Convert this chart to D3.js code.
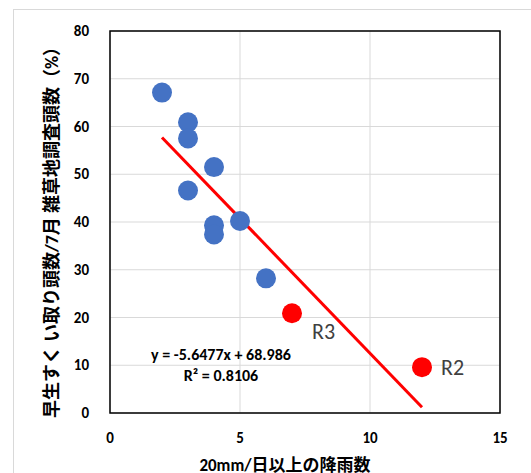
<!DOCTYPE html>
<html>
<head>
<meta charset="utf-8">
<script src="https://d3js.org/d3.v7.min.js"></script>
<style>
  body { margin: 0; background: #fff; }
  text { font-family: Calibri, "Noto Sans CJK JP", "Noto Sans", sans-serif; }
</style>
</head>
<body>
<script>
// 20mm/day rain counts vs. ratio (%)
var rainDays = [2, 3, 3, 4, 3, 4, 4, 5, 6];
var ratios   = [67.1, 60.9, 57.5, 51.5, 46.6, 39.3, 37.4, 40.2, 28.2];
var redNames = ["R3", "R2"];
var redDays  = [7, 12];
var redRatio = [20.9, 9.6];
var slope = -5.6477, intercept = 68.986;
var trendX = [2, 12];
var xTicks = [0, 5, 10, 15];
var yTicks = [0, 10, 20, 30, 40, 50, 60, 70, 80];

var svg = d3.select("body").append("svg")
    .attr("width", 531).attr("height", 473);

// outer chart frame
svg.append("rect").attr("x", 13.5).attr("y", 9.5)
    .attr("width", 540).attr("height", 480)
    .attr("fill", "#fff").attr("stroke", "#d9d9d9");

var x = d3.scaleLinear().domain([0, 15]).range([110, 500]);
var y = d3.scaleLinear().domain([0, 80]).range([413, 31]);

// grid
svg.selectAll(".gx").data(xTicks).enter().append("line")
    .attr("x1", d => x(d)).attr("x2", d => x(d))
    .attr("y1", y(0)).attr("y2", y(80))
    .attr("stroke", "#d9d9d9").attr("stroke-width", 1);
svg.selectAll(".gy").data(yTicks).enter().append("line")
    .attr("x1", x(0)).attr("x2", x(15))
    .attr("y1", d => y(d)).attr("y2", d => y(d))
    .attr("stroke", "#d9d9d9").attr("stroke-width", 1);

// plot border
svg.append("rect").attr("x", x(0)).attr("y", y(80))
    .attr("width", x(15) - x(0)).attr("height", y(0) - y(80))
    .attr("fill", "none").attr("stroke", "#000").attr("stroke-width", 1.5);

// tick labels
svg.selectAll(".xt").data(xTicks).enter().append("text")
    .attr("x", d => x(d)).attr("y", 443)
    .attr("text-anchor", "middle").attr("font-size", 15).attr("font-weight", "bold")
    .text(d => d);
svg.selectAll(".yt").data(yTicks).enter().append("text")
    .attr("x", 89).attr("y", d => y(d) + 5)
    .attr("text-anchor", "end").attr("font-size", 15).attr("font-weight", "bold")
    .text(d => d);

// trend line
svg.append("line")
    .attr("x1", x(trendX[0])).attr("y1", y(slope * trendX[0] + intercept))
    .attr("x2", x(trendX[1])).attr("y2", y(slope * trendX[1] + intercept))
    .attr("stroke", "#ff0000").attr("stroke-width", 3);

// points
svg.selectAll(".pt").data(rainDays).enter().append("circle")
    .attr("cx", d => x(d)).attr("cy", (d, i) => y(ratios[i]))
    .attr("r", 10).attr("fill", "#4472c4");
svg.selectAll(".rp").data(redDays).enter().append("circle")
    .attr("cx", d => x(d)).attr("cy", (d, i) => y(redRatio[i]))
    .attr("r", 10).attr("fill", "#ff0000");

// red labels
var labOff = [[20, 26], [19, 8]];
svg.selectAll(".rl").data(redNames).enter().append("text")
    .attr("x", (d, i) => x(redDays[i]) + labOff[i][0])
    .attr("y", (d, i) => y(redRatio[i]) + labOff[i][1])
    .attr("font-size", 22).attr("fill", "#404040")
    .attr("font-family", "'Open Sans', sans-serif").attr("font-weight", 300)
    .text(d => d);

// equation
svg.append("text").attr("x", 221).attr("y", 360)
    .attr("text-anchor", "middle").attr("font-size", 16).attr("font-weight", "bold")
    .text("y = -5.6477x + 68.986");
svg.append("text").attr("x", 221).attr("y", 381)
    .attr("text-anchor", "middle").attr("font-size", 16).attr("font-weight", "bold")
    .text("R² = 0.8106");

// axis titles
svg.append("text").attr("x", 285).attr("y", 471)
    .attr("text-anchor", "middle").attr("font-size", 17).attr("font-weight", "bold")
    .text("20mm/日以上の降雨数");
svg.append("text")
    .attr("transform", "translate(58,228) rotate(-90)")
    .attr("text-anchor", "middle").attr("font-size", 18).attr("font-weight", "bold")
    .text("早生すく い取り頭数/7月 雑草地調査頭数（%）");
</script>
</body>
</html>
